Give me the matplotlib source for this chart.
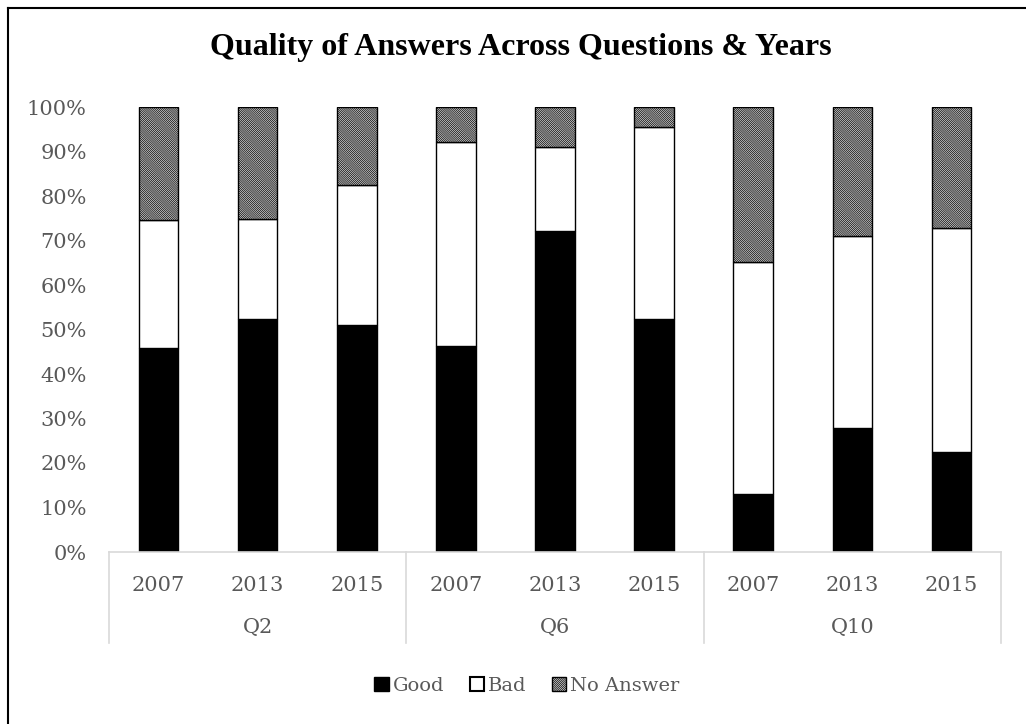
import matplotlib
matplotlib.use("Agg")
import matplotlib.pyplot as plt
from matplotlib.patches import Patch
from matplotlib.lines import Line2D
from matplotlib.ticker import PercentFormatter
import numpy as np

questions = ["Q2", "Q6", "Q10"]
years = ["2007", "2013", "2015"]
good = [45.8, 52.4, 50.9, 46.3, 72.2, 52.3, 13.0, 27.9, 22.5]
bad = [28.7, 22.5, 31.6, 45.8, 18.7, 43.1, 52.2, 43.0, 50.4]
no_answer = [25.5, 25.1, 17.5, 7.9, 9.1, 4.6, 34.8, 29.1, 27.1]

plt.rcParams["hatch.linewidth"] = 0.5
gray = "#595959"
serif = "DejaVu Serif"
hatch_face = "#d9d9d9"

fig = plt.figure(figsize=(10.26, 7.24), dpi=100)
ax = fig.add_axes([109/1026, 1-552/724, (1001-109)/1026, (552-107)/724])

x = np.arange(len(good))
g = np.array(good) / 100
b = np.array(bad) / 100
n = np.array(no_answer) / 100
w = 0.40
ax.bar(x, g, w, color="black", edgecolor="black", linewidth=1)
ax.bar(x, b, w, bottom=g, color="white", edgecolor="black", linewidth=1)
ax.bar(x, n, w, bottom=g + b, color=hatch_face, edgecolor="black", linewidth=1,
       hatch="\\" * 16)

ax.set_xlim(-0.5, len(good) - 0.5)
ax.set_ylim(0, 1)
ax.yaxis.set_major_locator(matplotlib.ticker.MultipleLocator(0.1))
ax.yaxis.set_major_formatter(PercentFormatter(1.0, decimals=0))
for s in ax.spines.values():
    s.set_visible(False)
ax.tick_params(axis="y", length=0, pad=16, labelsize=15, labelcolor=gray)
ax.set_xticks(x, years * len(questions))
ax.tick_params(axis="x", length=0, pad=17, labelsize=15, labelcolor=gray)
for lab in ax.get_xticklabels() + ax.get_yticklabels():
    lab.set_fontfamily(serif)

trans = matplotlib.transforms.blended_transform_factory(ax.transData, ax.transAxes)
ax.plot([-0.5, len(good) - 0.5], [0, 0], color="#d9d9d9", lw=1.2,
        transform=trans, clip_on=False)
for sx in [-0.5, 2.5, 5.5, 8.5]:
    ax.plot([sx, sx], [0, -91/445], color="#d9d9d9", lw=1.2,
            transform=trans, clip_on=False)
for i, q in enumerate(questions):
    ax.text(i * 3 + 1, -75/445, q, transform=trans, ha="center", va="center",
            fontsize=15, color=gray, family=serif)

fig.text(521/1026, 1-47/724, "Quality of Answers Across Questions & Years",
         ha="center", va="center", fontsize=23, fontweight="bold",
         family="Liberation Serif")

handles = [Patch(facecolor="black", edgecolor="black", label="Good"),
           Patch(facecolor="white", edgecolor="black", lw=1.5, label="Bad"),
           Patch(facecolor=hatch_face, edgecolor="black", hatch="\\" * 16, label="No Answer")]
fig.legend(handles=handles, loc="center", bbox_to_anchor=(527/1026, 1-686/724),
           ncol=3, frameon=False, handlelength=0.75, handleheight=0.75,
           handletextpad=0.2, columnspacing=1.3,
           prop={"family": serif, "size": 14}, labelcolor=gray)

fig.add_artist(Line2D([7.5/1026, 7.5/1026], [0, 1-7.5/724], color="black", lw=1.5,
                      transform=fig.transFigure))
fig.add_artist(Line2D([7.5/1026, 1], [1-7.5/724, 1-7.5/724], color="black", lw=1.5,
                      transform=fig.transFigure))

fig.savefig("out.png", dpi=100)
